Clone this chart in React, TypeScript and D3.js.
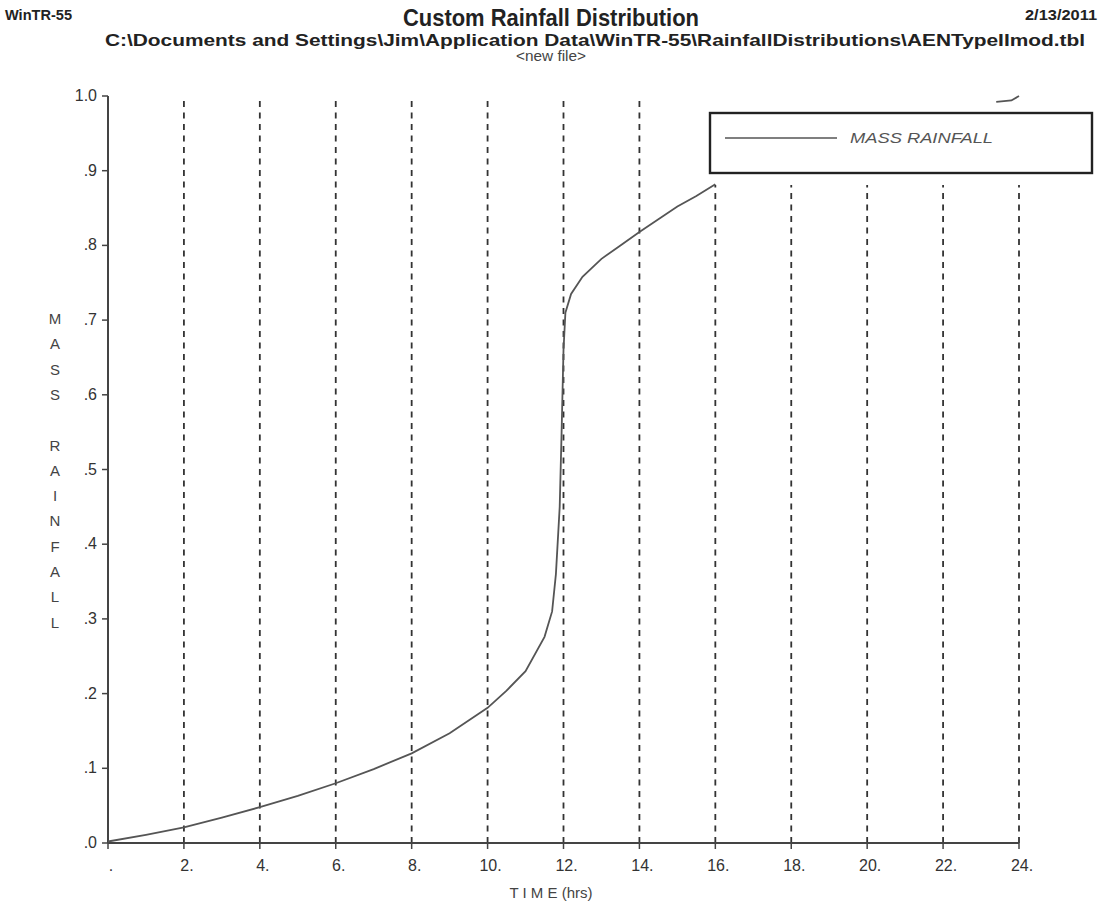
import React from "react";
import * as d3 from "d3";

// values
const hours = [0, 1, 2, 3, 4, 5, 6, 7, 8, 9, 10, 10.5, 11, 11.5, 11.7, 11.8, 11.9, 11.95, 12.0, 12.05, 12.2, 12.5, 13, 13.5, 14, 14.5, 15, 15.5, 16];
const massRainfall = [0.002, 0.011, 0.021, 0.034, 0.048, 0.063, 0.08, 0.099, 0.12, 0.147, 0.181, 0.204, 0.23, 0.276, 0.31, 0.36, 0.45, 0.55, 0.66, 0.71, 0.735, 0.758, 0.782, 0.8, 0.818, 0.835, 0.852, 0.866, 0.882];
// short piece of the curve peeking out above the legend box
const tailHours = [23.4, 23.8, 24];
const tailRainfall = [0.992, 0.994, 1.0];

const xTicks = [0, 2, 4, 6, 8, 10, 12, 14, 16, 18, 20, 22, 24];
const xTickLabels = [".", "2.", "4.", "6.", "8.", "10.", "12.", "14.", "16.", "18.", "20.", "22.", "24."];
const yTicks = [0, 0.1, 0.2, 0.3, 0.4, 0.5, 0.6, 0.7, 0.8, 0.9, 1.0];
const yTickLabels = [".0", ".1", ".2", ".3", ".4", ".5", ".6", ".7", ".8", ".9", "1.0"];
const yTitle = "MASS RAINFALL";

const W = 1102;
const H = 907;

export default function App() {
  const x = d3.scaleLinear().domain([0, 24]).range([108, 1019]);
  const y = d3.scaleLinear().domain([0, 1]).range([843, 96]);

  const line = d3
    .line<number>()
    .x((d, i) => x(hours[i]))
    .y((d) => y(d));
  const tailLine = d3
    .line<number>()
    .x((d, i) => x(tailHours[i]))
    .y((d) => y(d));

  const ink = "#222";
  const font = "'Liberation Sans', Arial, sans-serif";

  // legend box
  const lg = { x: 710, y: 113, w: 382, h: 60 };

  return (
    <svg width={W} height={H} style={{ position: "absolute", left: 0, top: 0, background: "#fff" }}>
      <rect width={W} height={H} fill="#fff" />
      {/* header */}
      <text x={5} y={20} fontFamily={font} fontWeight="bold" fontSize={15} fill={ink} textLength={67} lengthAdjust="spacingAndGlyphs">WinTR-55</text>
      <text x={551} y={26} textAnchor="middle" fontFamily={font} fontWeight="bold" fontSize={24} fill={ink} textLength={296} lengthAdjust="spacingAndGlyphs">Custom Rainfall Distribution</text>
      <text x={1097} y={20} textAnchor="end" fontFamily={font} fontWeight="bold" fontSize={15} fill={ink} textLength={72} lengthAdjust="spacingAndGlyphs">2/13/2011</text>
      <text x={105} y={46} fontFamily={font} fontWeight="bold" fontSize={17} fill={ink} textLength={980} lengthAdjust="spacingAndGlyphs">C:\Documents and Settings\Jim\Application Data\WinTR-55\RainfallDistributions\AENTypeIImod.tbl</text>
      <text x={551} y={61} textAnchor="middle" fontFamily={font} fontSize={14} fill="#444" textLength={70} lengthAdjust="spacingAndGlyphs">&lt;new file&gt;</text>

      {/* vertical dashed gridlines */}
      {xTicks.slice(1).map((t) => (
        <line key={t} x1={x(t)} x2={x(t)} y1={y(0)} y2={y(1)} stroke="#333" strokeWidth={1.8} strokeDasharray="6,5.5" />
      ))}

      {/* legend, white background hides the grid behind it */}
      <rect x={lg.x - 3} y={88} width={lg.w + 8} height={97} fill="#fff" />
      <rect x={lg.x} y={lg.y} width={lg.w} height={lg.h} fill="none" stroke={ink} strokeWidth={2.4} />
      <line x1={725} x2={837} y1={138} y2={138} stroke="#555" strokeWidth={1.6} />
      <text x={850} y={143} fontFamily={font} fontStyle="italic" fontSize={14} fill="#555" textLength={143} lengthAdjust="spacingAndGlyphs">MASS RAINFALL</text>

      {/* axes */}
      <line x1={x(0)} x2={x(0)} y1={y(0)} y2={y(1)} stroke="#444" strokeWidth={2} />
      <line x1={x(0)} x2={x(24)} y1={y(0)} y2={y(0)} stroke="#444" strokeWidth={2} />
      {yTicks.map((t, i) => (
        <g key={t}>
          <line x1={x(0) - 6} x2={x(0)} y1={y(t)} y2={y(t)} stroke="#444" strokeWidth={1.5} />
          <text x={97} y={y(t) + 5} textAnchor="end" fontFamily={font} fontSize={16} fill="#333">{yTickLabels[i]}</text>
        </g>
      ))}
      {xTicks.map((t, i) => (
        <g key={t}>
          <line x1={x(t)} x2={x(t)} y1={y(0)} y2={y(0) + 6} stroke="#444" strokeWidth={1.5} />
          <text x={x(t) + 3} y={871} textAnchor="middle" fontFamily={font} fontSize={16} fill="#333">{xTickLabels[i]}</text>
        </g>
      ))}

      {/* axis titles */}
      {yTitle.split("").map((c, i) => (
        <text key={i} x={55} y={324 + i * 25.3} textAnchor="middle" fontFamily={font} fontSize={15} fill="#444">{c}</text>
      ))}
      <text x={551} y={898} textAnchor="middle" fontFamily={font} fontSize={15} fill="#444">T I M E (hrs)</text>

      {/* curve */}
      <path d={line(massRainfall) ?? ""} fill="none" stroke="#555" strokeWidth={1.8} />
      <path d={tailLine(tailRainfall) ?? ""} fill="none" stroke="#555" strokeWidth={1.8} />
    </svg>
  );
}
